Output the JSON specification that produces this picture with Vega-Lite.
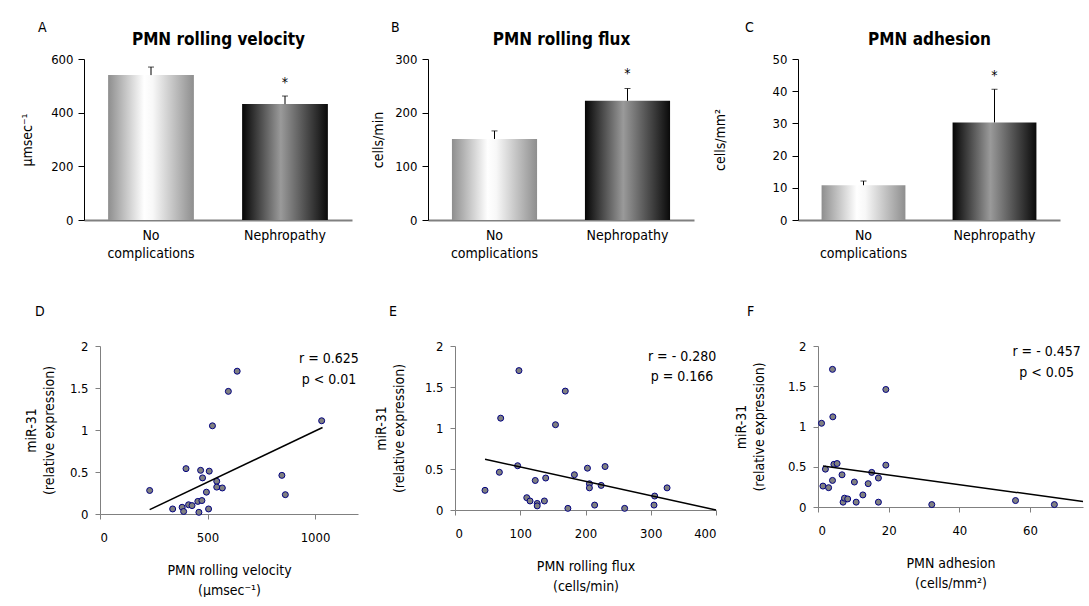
{
  "$schema": "https://vega.github.io/schema/vega-lite/v6.json",
  "background": "white",
  "padding": {"left": 0, "top": 21, "right": 0, "bottom": 0},
  "config": {
    "font": "DejaVu Sans Condensed, DejaVu Sans, sans-serif",
    "view": {"stroke": null},
    "axis": {"grid": false, "labelFontSize": 13, "titleFontSize": 14, "titleFontWeight": "normal", "labelColor": "black", "titleColor": "black", "domainColor": "#808080", "tickColor": "#808080", "tickSize": 5},
    "title": {"fontSize": 14, "fontWeight": "normal", "anchor": "start", "frame": "group", "color": "black"},
    "text": {"color": "black"}
  },
  "datasets": {
    "bars": [
      {"panel": "A", "group": "No complications", "mean": 540, "upper": 570, "sig": ""},
      {"panel": "A", "group": "Nephropathy", "mean": 432, "upper": 462, "sig": "*"},
      {"panel": "B", "group": "No complications", "mean": 151, "upper": 166, "sig": ""},
      {"panel": "B", "group": "Nephropathy", "mean": 222, "upper": 245, "sig": "*"},
      {"panel": "C", "group": "No complications", "mean": 10.8, "upper": 12.1, "sig": ""},
      {"panel": "C", "group": "Nephropathy", "mean": 30.3, "upper": 40.6, "sig": "*"}
    ],
    "points": [
      {"panel": "D", "x": 231, "y": 0.28}, {"panel": "D", "x": 338, "y": 0.06}, {"panel": "D", "x": 382, "y": 0.08}, {"panel": "D", "x": 389, "y": 0.03},
      {"panel": "D", "x": 400, "y": 0.54}, {"panel": "D", "x": 412, "y": 0.11}, {"panel": "D", "x": 428, "y": 0.10}, {"panel": "D", "x": 455, "y": 0.15},
      {"panel": "D", "x": 460, "y": 0.02}, {"panel": "D", "x": 468, "y": 0.52}, {"panel": "D", "x": 474, "y": 0.16}, {"panel": "D", "x": 477, "y": 0.43},
      {"panel": "D", "x": 495, "y": 0.26}, {"panel": "D", "x": 505, "y": 0.06}, {"panel": "D", "x": 508, "y": 0.51}, {"panel": "D", "x": 523, "y": 1.05},
      {"panel": "D", "x": 543, "y": 0.39}, {"panel": "D", "x": 543, "y": 0.32}, {"panel": "D", "x": 569, "y": 0.31}, {"panel": "D", "x": 597, "y": 1.46},
      {"panel": "D", "x": 638, "y": 1.70}, {"panel": "D", "x": 846, "y": 0.46}, {"panel": "D", "x": 862, "y": 0.23}, {"panel": "D", "x": 1031, "y": 1.11},
      {"panel": "E", "x": 46, "y": 0.24}, {"panel": "E", "x": 68, "y": 0.46}, {"panel": "E", "x": 70, "y": 1.12}, {"panel": "E", "x": 96, "y": 0.54},
      {"panel": "E", "x": 98, "y": 1.70}, {"panel": "E", "x": 110, "y": 0.15}, {"panel": "E", "x": 115, "y": 0.11}, {"panel": "E", "x": 123, "y": 0.36},
      {"panel": "E", "x": 126, "y": 0.08}, {"panel": "E", "x": 126, "y": 0.05}, {"panel": "E", "x": 137, "y": 0.11}, {"panel": "E", "x": 139, "y": 0.39},
      {"panel": "E", "x": 154, "y": 1.04}, {"panel": "E", "x": 169, "y": 1.45}, {"panel": "E", "x": 173, "y": 0.02}, {"panel": "E", "x": 183, "y": 0.43},
      {"panel": "E", "x": 203, "y": 0.51}, {"panel": "E", "x": 206, "y": 0.32}, {"panel": "E", "x": 206, "y": 0.27}, {"panel": "E", "x": 214, "y": 0.06},
      {"panel": "E", "x": 224, "y": 0.30}, {"panel": "E", "x": 230, "y": 0.53}, {"panel": "E", "x": 260, "y": 0.02}, {"panel": "E", "x": 305, "y": 0.06},
      {"panel": "E", "x": 306, "y": 0.17}, {"panel": "E", "x": 325, "y": 0.27},
      {"panel": "F", "x": 1.0, "y": 1.04}, {"panel": "F", "x": 1.4, "y": 0.26}, {"panel": "F", "x": 2.1, "y": 0.47}, {"panel": "F", "x": 3.0, "y": 0.24},
      {"panel": "F", "x": 4.1, "y": 1.71}, {"panel": "F", "x": 4.2, "y": 1.12}, {"panel": "F", "x": 4.1, "y": 0.33}, {"panel": "F", "x": 4.5, "y": 0.53},
      {"panel": "F", "x": 5.4, "y": 0.54}, {"panel": "F", "x": 6.8, "y": 0.40}, {"panel": "F", "x": 7.1, "y": 0.06}, {"panel": "F", "x": 7.5, "y": 0.11},
      {"panel": "F", "x": 8.4, "y": 0.10}, {"panel": "F", "x": 10.3, "y": 0.31}, {"panel": "F", "x": 10.8, "y": 0.06}, {"panel": "F", "x": 12.7, "y": 0.15},
      {"panel": "F", "x": 14.2, "y": 0.29}, {"panel": "F", "x": 15.2, "y": 0.43}, {"panel": "F", "x": 17.1, "y": 0.36}, {"panel": "F", "x": 17.1, "y": 0.06},
      {"panel": "F", "x": 19.2, "y": 0.52}, {"panel": "F", "x": 19.2, "y": 1.46}, {"panel": "F", "x": 32.2, "y": 0.03}, {"panel": "F", "x": 55.9, "y": 0.08},
      {"panel": "F", "x": 66.9, "y": 0.03}
    ],
    "fits": [
      {"panel": "D", "x": 231, "y": 0.052}, {"panel": "D", "x": 1035, "y": 1.03},
      {"panel": "E", "x": 46, "y": 0.62}, {"panel": "E", "x": 400, "y": 0.0},
      {"panel": "F", "x": 1.4, "y": 0.51}, {"panel": "F", "x": 75, "y": 0.068}
    ],
    "notes": [
      {"panel": "D", "x": 1065, "y": 1.85, "t": "r = 0.625"}, {"panel": "D", "x": 1065, "y": 1.6, "t": "p < 0.01"},
      {"panel": "E", "x": 348, "y": 1.87, "t": "r = - 0.280"}, {"panel": "E", "x": 348, "y": 1.625, "t": "p = 0.166"},
      {"panel": "F", "x": 64.7, "y": 1.92, "t": "r = - 0.457"}, {"panel": "F", "x": 64.7, "y": 1.67, "t": "p < 0.05"}
    ]
  },
  "vconcat": [
    {
      "hconcat": [
        {
          "width": 1, "height": 1,
          "data": {"values": [{"v": 0}]},
          "mark": {"type": "text", "text": ""},
          "encoding": {}
        },
        {
          "width": 268, "height": 161,
          "title": {"text": "A", "dx": -46, "offset": -5},
          "data": {"name": "bars"},
          "transform": [{"filter": "datum.panel === 'A'"}],
          "encoding": {
            "x": {"field": "group", "type": "nominal", "sort": ["No complications", "Nephropathy"], "scale": {"paddingInner": 0.36, "paddingOuter": 0.18}, "axis": null}
          },
          "layer": [
            {
              "mark": {"type": "bar"},
              "encoding": {
                "x": {"field": "group", "type": "nominal", "sort": ["No complications", "Nephropathy"], "scale": {"paddingInner": 0.36, "paddingOuter": 0.18},
                      "axis": {"orient": "bottom", "title": null, "labelAngle": 0, "ticks": false, "domainColor": "#808080", "domainWidth": 2, "labelPadding": 8, "labelFontSize": 14, "labelLineHeight": 18, "labelExpr": "split(datum.label, ' ')"}},
                "y": {"field": "mean", "type": "quantitative", "scale": {"domain": [0, 600], "nice": false},
                      "axis": {"title": "μmsec⁻¹", "values": [0, 200, 400, 600], "domainColor": "black", "tickColor": "black", "tickSize": 6, "labelPadding": 5, "titlePadding": 16}},
                "fill": {
                  "condition": {"test": "datum.group === 'Nephropathy'", "value": {"gradient": "linear", "x1": 0, "y1": 0, "x2": 1, "y2": 0, "stops": [{"offset": 0, "color": "#050505"}, {"offset": 0.45, "color": "#9a9a9a"}, {"offset": 1, "color": "#0a0a0a"}]}},
                  "value": {"gradient": "linear", "x1": 0, "y1": 0, "x2": 1, "y2": 0, "stops": [{"offset": 0, "color": "#8e8e8e"}, {"offset": 0.42, "color": "#ffffff"}, {"offset": 0.52, "color": "#f8f8f8"}, {"offset": 1, "color": "#8e8e8e"}]}
                }
              }
            },
            {
              "mark": {"type": "rule", "color": "black"},
              "encoding": {
                "x": {"field": "group", "type": "nominal", "sort": ["No complications", "Nephropathy"], "scale": {"paddingInner": 0.36, "paddingOuter": 0.18},
                      "axis": {"orient": "top", "title": "PMN rolling velocity", "labels": false, "ticks": false, "domain": false, "titleFontWeight": "bold", "titleFontSize": 17, "titlePadding": 11}},
                "y": {"field": "mean", "type": "quantitative", "scale": {"domain": [0, 600], "nice": false},
                      "axis": {"title": "μmsec⁻¹", "values": [0, 200, 400, 600], "domainColor": "black", "tickColor": "black", "tickSize": 6, "labelPadding": 5, "titlePadding": 16}},
                "y2": {"field": "upper"}
              }
            },
            {
              "mark": {"type": "tick", "color": "black", "size": 6, "thickness": 1},
              "encoding": {"y": {"field": "upper", "type": "quantitative", "scale": {"domain": [0, 600], "nice": false},
                      "axis": {"title": "μmsec⁻¹", "values": [0, 200, 400, 600], "domainColor": "black", "tickColor": "black", "tickSize": 6, "labelPadding": 5, "titlePadding": 16}}}
            },
            {
              "mark": {"type": "text", "dy": -13, "fontSize": 14, "baseline": "middle"},
              "encoding": {"y": {"field": "upper", "type": "quantitative", "scale": {"domain": [0, 600], "nice": false},
                      "axis": {"title": "μmsec⁻¹", "values": [0, 200, 400, 600], "domainColor": "black", "tickColor": "black", "tickSize": 6, "labelPadding": 5, "titlePadding": 16}}, "text": {"field": "sig"}}
            }
          ],
          "resolve": {"axis": {"x": "independent"}}
        },
        {
          "width": 266, "height": 161,
          "title": {"text": "B", "dx": -37, "offset": -5},
          "data": {"name": "bars"},
          "transform": [{"filter": "datum.panel === 'B'"}],
          "encoding": {
            "x": {"field": "group", "type": "nominal", "sort": ["No complications", "Nephropathy"], "scale": {"paddingInner": 0.36, "paddingOuter": 0.18}, "axis": null}
          },
          "layer": [
            {
              "mark": {"type": "bar"},
              "encoding": {
                "x": {"field": "group", "type": "nominal", "sort": ["No complications", "Nephropathy"], "scale": {"paddingInner": 0.36, "paddingOuter": 0.18},
                      "axis": {"orient": "bottom", "title": null, "labelAngle": 0, "ticks": false, "domainColor": "#808080", "domainWidth": 2, "labelPadding": 8, "labelFontSize": 14, "labelLineHeight": 18, "labelExpr": "split(datum.label, ' ')"}},
                "y": {"field": "mean", "type": "quantitative", "scale": {"domain": [0, 300], "nice": false},
                      "axis": {"title": "cells/min", "values": [0, 100, 200, 300], "domainColor": "black", "tickColor": "black", "tickSize": 6, "labelPadding": 5, "titlePadding": 9}},
                "fill": {
                  "condition": {"test": "datum.group === 'Nephropathy'", "value": {"gradient": "linear", "x1": 0, "y1": 0, "x2": 1, "y2": 0, "stops": [{"offset": 0, "color": "#050505"}, {"offset": 0.45, "color": "#9a9a9a"}, {"offset": 1, "color": "#0a0a0a"}]}},
                  "value": {"gradient": "linear", "x1": 0, "y1": 0, "x2": 1, "y2": 0, "stops": [{"offset": 0, "color": "#8e8e8e"}, {"offset": 0.42, "color": "#ffffff"}, {"offset": 0.52, "color": "#f8f8f8"}, {"offset": 1, "color": "#8e8e8e"}]}
                }
              }
            },
            {
              "mark": {"type": "rule", "color": "black"},
              "encoding": {
                "x": {"field": "group", "type": "nominal", "sort": ["No complications", "Nephropathy"], "scale": {"paddingInner": 0.36, "paddingOuter": 0.18},
                      "axis": {"orient": "top", "title": "PMN rolling flux", "labels": false, "ticks": false, "domain": false, "titleFontWeight": "bold", "titleFontSize": 17, "titlePadding": 11}},
                "y": {"field": "mean", "type": "quantitative", "scale": {"domain": [0, 300], "nice": false},
                      "axis": {"title": "cells/min", "values": [0, 100, 200, 300], "domainColor": "black", "tickColor": "black", "tickSize": 6, "labelPadding": 5, "titlePadding": 9}},
                "y2": {"field": "upper"}
              }
            },
            {
              "mark": {"type": "tick", "color": "black", "size": 6, "thickness": 1},
              "encoding": {"y": {"field": "upper", "type": "quantitative", "scale": {"domain": [0, 300], "nice": false},
                      "axis": {"title": "cells/min", "values": [0, 100, 200, 300], "domainColor": "black", "tickColor": "black", "tickSize": 6, "labelPadding": 5, "titlePadding": 9}}}
            },
            {
              "mark": {"type": "text", "dy": -15, "fontSize": 14, "baseline": "middle"},
              "encoding": {"y": {"field": "upper", "type": "quantitative", "scale": {"domain": [0, 300], "nice": false},
                      "axis": {"title": "cells/min", "values": [0, 100, 200, 300], "domainColor": "black", "tickColor": "black", "tickSize": 6, "labelPadding": 5, "titlePadding": 9}}, "text": {"field": "sig"}}
            }
          ],
          "resolve": {"axis": {"x": "independent"}}
        },
        {
          "width": 262, "height": 161,
          "title": {"text": "C", "dx": -53, "offset": -5},
          "data": {"name": "bars"},
          "transform": [{"filter": "datum.panel === 'C'"}],
          "encoding": {
            "x": {"field": "group", "type": "nominal", "sort": ["No complications", "Nephropathy"], "scale": {"paddingInner": 0.36, "paddingOuter": 0.18}, "axis": null}
          },
          "layer": [
            {
              "mark": {"type": "bar"},
              "encoding": {
                "x": {"field": "group", "type": "nominal", "sort": ["No complications", "Nephropathy"], "scale": {"paddingInner": 0.36, "paddingOuter": 0.18},
                      "axis": {"orient": "bottom", "title": null, "labelAngle": 0, "ticks": false, "domainColor": "#808080", "domainWidth": 2, "labelPadding": 8, "labelFontSize": 14, "labelLineHeight": 18, "labelExpr": "split(datum.label, ' ')"}},
                "y": {"field": "mean", "type": "quantitative", "scale": {"domain": [0, 50], "nice": false},
                      "axis": {"title": "cells/mm²", "values": [0, 10, 20, 30, 40, 50], "domainColor": "black", "tickColor": "black", "tickSize": 6, "labelPadding": 5, "titlePadding": 45}},
                "fill": {
                  "condition": {"test": "datum.group === 'Nephropathy'", "value": {"gradient": "linear", "x1": 0, "y1": 0, "x2": 1, "y2": 0, "stops": [{"offset": 0, "color": "#050505"}, {"offset": 0.45, "color": "#9a9a9a"}, {"offset": 1, "color": "#0a0a0a"}]}},
                  "value": {"gradient": "linear", "x1": 0, "y1": 0, "x2": 1, "y2": 0, "stops": [{"offset": 0, "color": "#8e8e8e"}, {"offset": 0.42, "color": "#ffffff"}, {"offset": 0.52, "color": "#f8f8f8"}, {"offset": 1, "color": "#8e8e8e"}]}
                }
              }
            },
            {
              "mark": {"type": "rule", "color": "black"},
              "encoding": {
                "x": {"field": "group", "type": "nominal", "sort": ["No complications", "Nephropathy"], "scale": {"paddingInner": 0.36, "paddingOuter": 0.18},
                      "axis": {"orient": "top", "title": "PMN adhesion", "labels": false, "ticks": false, "domain": false, "titleFontWeight": "bold", "titleFontSize": 17, "titlePadding": 11}},
                "y": {"field": "mean", "type": "quantitative", "scale": {"domain": [0, 50], "nice": false},
                      "axis": {"title": "cells/mm²", "values": [0, 10, 20, 30, 40, 50], "domainColor": "black", "tickColor": "black", "tickSize": 6, "labelPadding": 5, "titlePadding": 45}},
                "y2": {"field": "upper"}
              }
            },
            {
              "mark": {"type": "tick", "color": "black", "size": 6, "thickness": 1},
              "encoding": {"y": {"field": "upper", "type": "quantitative", "scale": {"domain": [0, 50], "nice": false},
                      "axis": {"title": "cells/mm²", "values": [0, 10, 20, 30, 40, 50], "domainColor": "black", "tickColor": "black", "tickSize": 6, "labelPadding": 5, "titlePadding": 45}}}
            },
            {
              "mark": {"type": "text", "dy": -13, "fontSize": 14, "baseline": "middle"},
              "encoding": {"y": {"field": "upper", "type": "quantitative", "scale": {"domain": [0, 50], "nice": false},
                      "axis": {"title": "cells/mm²", "values": [0, 10, 20, 30, 40, 50], "domainColor": "black", "tickColor": "black", "tickSize": 6, "labelPadding": 5, "titlePadding": 45}}, "text": {"field": "sig"}}
            }
          ],
          "resolve": {"axis": {"x": "independent"}}
        }
      ],
      "spacing": 19
    },
    {
      "hconcat": [
        {
          "width": 9, "height": 1,
          "data": {"values": [{"v": 0}]},
          "mark": {"type": "text", "text": ""},
          "encoding": {}
        },
        {
          "width": 258, "height": 168,
          "title": {"text": "D", "dx": -65, "offset": 21},
          "layer": [
            {
              "data": {"name": "points"},
              "transform": [{"filter": "datum.panel === 'D'"}],
              "mark": {"type": "circle", "fill": "#808080", "stroke": "#000080", "strokeWidth": 1, "size": 36, "opacity": 1},
              "encoding": {
                "x": {"field": "x", "type": "quantitative", "scale": {"domain": [0, 1200], "nice": false},
                      "axis": {"values": [0, 500, 1000], "format": "d", "title": ["PMN rolling velocity", "(μmsec⁻¹)"], "labelPadding": 12, "titlePadding": 19, "titleLineHeight": 20}},
                "y": {"field": "y", "type": "quantitative", "scale": {"domain": [0, 2], "nice": false},
                      "axis": {"values": [0, 0.5, 1, 1.5, 2], "format": ".1~f", "title": ["miR-31", "(relative expression)"], "labelPadding": 7, "titlePadding": 13, "titleLineHeight": 18}}
              }
            },
            {
              "data": {"name": "fits"},
              "transform": [{"filter": "datum.panel === 'D'"}],
              "mark": {"type": "line", "color": "black", "strokeWidth": 1.5},
              "encoding": {"x": {"field": "x", "type": "quantitative"}, "y": {"field": "y", "type": "quantitative"}}
            },
            {
              "data": {"name": "notes"},
              "transform": [{"filter": "datum.panel === 'D'"}],
              "mark": {"type": "text", "fontSize": 14, "align": "center", "baseline": "middle"},
              "encoding": {"x": {"field": "x", "type": "quantitative"}, "y": {"field": "y", "type": "quantitative"}, "text": {"field": "t"}}
            }
          ]
        },
        {
          "width": 261, "height": 164,
          "title": {"text": "E", "dx": -66, "offset": 21},
          "layer": [
            {
              "data": {"name": "points"},
              "transform": [{"filter": "datum.panel === 'E'"}],
              "mark": {"type": "circle", "fill": "#808080", "stroke": "#000080", "strokeWidth": 1, "size": 36, "opacity": 1},
              "encoding": {
                "x": {"field": "x", "type": "quantitative", "scale": {"domain": [0, 400], "nice": false},
                      "axis": {"values": [0, 100, 200, 300, 400], "format": "d", "title": ["PMN rolling flux", "(cells/min)"], "labelPadding": 12, "titlePadding": 19, "titleLineHeight": 20}},
                "y": {"field": "y", "type": "quantitative", "scale": {"domain": [0, 2], "nice": false},
                      "axis": {"values": [0, 0.5, 1, 1.5, 2], "format": ".1~f", "title": ["miR-31", "(relative expression)"], "labelPadding": 7, "titlePadding": 18, "titleLineHeight": 18}}
              }
            },
            {
              "data": {"name": "fits"},
              "transform": [{"filter": "datum.panel === 'E'"}],
              "mark": {"type": "line", "color": "black", "strokeWidth": 1.5},
              "encoding": {"x": {"field": "x", "type": "quantitative"}, "y": {"field": "y", "type": "quantitative"}}
            },
            {
              "data": {"name": "notes"},
              "transform": [{"filter": "datum.panel === 'E'"}],
              "mark": {"type": "text", "fontSize": 14, "align": "center", "baseline": "middle"},
              "encoding": {"x": {"field": "x", "type": "quantitative"}, "y": {"field": "y", "type": "quantitative"}, "text": {"field": "t"}}
            }
          ]
        },
        {
          "width": 265, "height": 161,
          "title": {"text": "F", "dx": -71, "offset": 21},
          "layer": [
            {
              "data": {"name": "points"},
              "transform": [{"filter": "datum.panel === 'F'"}],
              "mark": {"type": "circle", "fill": "#808080", "stroke": "#000080", "strokeWidth": 1, "size": 36, "opacity": 1},
              "encoding": {
                "x": {"field": "x", "type": "quantitative", "scale": {"domain": [0, 75], "nice": false},
                      "axis": {"values": [0, 20, 40, 60], "format": "d", "title": ["PMN adhesion", "(cells/mm²)"], "labelPadding": 12, "titlePadding": 19, "titleLineHeight": 20}},
                "y": {"field": "y", "type": "quantitative", "scale": {"domain": [0, 2], "nice": false},
                      "axis": {"values": [0, 0.5, 1, 1.5, 2], "format": ".1~f", "title": ["miR-31", "(relative expression)"], "labelPadding": 7, "titlePadding": 21, "titleLineHeight": 18}}
              }
            },
            {
              "data": {"name": "fits"},
              "transform": [{"filter": "datum.panel === 'F'"}],
              "mark": {"type": "line", "color": "black", "strokeWidth": 1.5},
              "encoding": {"x": {"field": "x", "type": "quantitative"}, "y": {"field": "y", "type": "quantitative"}}
            },
            {
              "data": {"name": "notes"},
              "transform": [{"filter": "datum.panel === 'F'"}],
              "mark": {"type": "text", "fontSize": 14, "align": "center", "baseline": "middle"},
              "encoding": {"x": {"field": "x", "type": "quantitative"}, "y": {"field": "y", "type": "quantitative"}, "text": {"field": "t"}}
            }
          ]
        }
      ],
      "spacing": 15
    }
  ],
  "spacing": 45
}
